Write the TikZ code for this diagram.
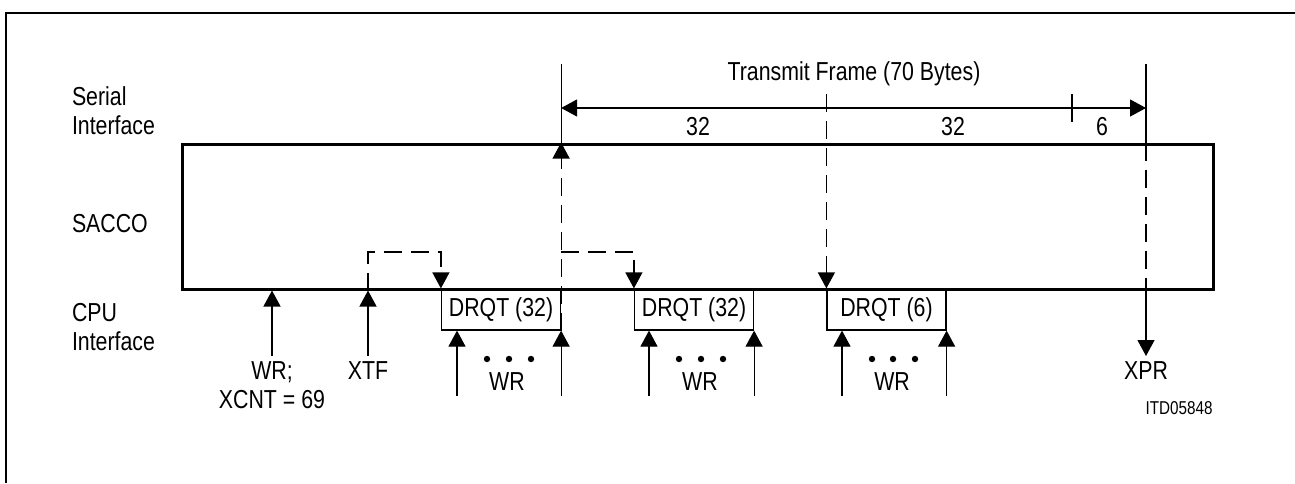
\documentclass[tikz,border=0pt]{standalone}
\usepackage{fontspec}
\setmainfont{Liberation Sans}[FakeStretch=0.82]
\usetikzlibrary{positioning, arrows.meta}

\newcommand{\labfont}{\fontsize{13}{14.5}\selectfont}
\newcommand{\codefont}{\fontsize{9.3}{11}\selectfont}

\tikzset{
  lbl/.style={inner sep=0pt, outer sep=0pt, font=\labfont},
  tag/.style={lbl, outer sep=3pt},
  thinl/.style={line width=0.6pt},
  tip/.style={-{Triangle[length=8pt,width=8.5pt]}},
  sig/.style={thinl, tip},
  dsh/.style={thinl, dash pattern=on 9pt off 4.5pt},
  drqt/.style={draw, thinl, font=\labfont, minimum width=59.5pt, minimum height=20.5pt, inner sep=0pt},
}

\begin{document}
\begin{tikzpicture}[x=0.5pt, y=-0.5pt]
  \useasboundingbox (0,0) rectangle (1295,483);
  \draw[line width=1pt] (6,483) -- (6,13) -- (1295,13);

  % row labels
  \node[lbl, anchor=north west, align=left] (serial) at (72,87) {Serial\\Interface};
  \node[lbl, anchor=north west] (saccolbl) at (72,214) {SACCO};
  \node[lbl, anchor=north west, align=left] (cpu) at (72,303) {CPU\\Interface};

  % SACCO block and DMA requests
  \node[draw, line width=1.5pt, minimum width=515.5pt, minimum height=72.5pt, inner sep=0pt] (sacco) at (697.5,216.5) {};
  \node[drqt] (d1) at (501,309.5) {DRQT (32)};
  \node[drqt] (d2) at (694,309.5) {DRQT (32)};
  \node[drqt] (d3) at (886.5,309.5) {DRQT (6)};

  \coordinate (top) at (0,64);
  \coordinate (rail) at (0,94);
  \coordinate (dim) at (0,108);
  \coordinate (lvl) at (0,252);
  \coordinate (foot) at (0,396);

  % first write and XTF
  \node[tag, anchor=north, align=center] (wr0) at (272,356) {WR;\\XCNT = 69};
  \node[tag, anchor=north] (xtf) at (368,356) {XTF};
  \draw[sig] (wr0.north) -- (wr0.north |- sacco.south);
  \draw[sig] (xtf.north) -- (xtf.north |- sacco.south);
  \draw[dsh, tip] (xtf.north |- sacco.south) -- (xtf.north |- lvl) -| (d1.north west);

  % frame start and following requests
  \draw[thinl] (d1.south east |- sacco.north) -- (d1.south east |- top);
  \draw[dsh, tip] (d1.south east) -- (d1.south east |- sacco.north);
  \draw[dsh, tip] (d1.south east |- lvl) -| (d2.north west);
  \draw[dsh, tip] (d3.north west |- rail) -- (d3.north west);

  % XPR
  \node[tag, anchor=north] (xpr) at (1146,356) {XPR};
  \draw[thinl] (xpr.north |- sacco.north) -- (xpr.north |- top);
  \draw[dsh] (xpr.north |- sacco.north) -- (xpr.north |- sacco.south);
  \draw[sig] (xpr.north |- sacco.south) -- (xpr.north);

  % byte counts
  \draw[thinl, {Triangle[length=8pt,width=8.5pt]}-{Triangle[length=8pt,width=8.5pt]}] (d1.south east |- dim) -- (xpr.north |- dim);
  \draw[thinl] (1072,94) -- (1072,122);
  \node[lbl, anchor=north] (frame) at (854,62) {Transmit Frame (70 Bytes)};
  \node[lbl, anchor=north] (n1) at (698,117) {32};
  \node[lbl, anchor=north] (n2) at (953,117) {32};
  \node[lbl, anchor=north] (n3) at (1102,117) {6};

  % write bursts
  \coordinate (w1) at (457,396);
  \coordinate (w2) at (649,396);
  \coordinate (w3) at (842,396);
  \draw[sig] (w1) -- (w1 |- d1.south);
  \draw[sig] (d1.south east |- foot) -- (d1.south east);
  \draw[sig] (w2) -- (w2 |- d2.south);
  \draw[sig] (d2.south east |- foot) -- (d2.south east);
  \draw[sig] (w3) -- (w3 |- d3.south);
  \draw[sig] (d3.south east |- foot) -- (d3.south east);
  \fill (487,359) circle (1.6pt) (509,359) circle (1.6pt) (531,359) circle (1.6pt);
  \fill (679,359) circle (1.6pt) (701,359) circle (1.6pt) (723,359) circle (1.6pt);
  \fill (872,359) circle (1.6pt) (893,359) circle (1.6pt) (915,359) circle (1.6pt);
  \node[lbl, anchor=north] (wr1) at (507,373) {WR};
  \node[lbl, anchor=north] (wr2) at (700,373) {WR};
  \node[lbl, anchor=north] (wr3) at (892,373) {WR};

  \node[lbl, font=\codefont, anchor=north] (itd) at (1179,402) {ITD05848};
\end{tikzpicture}
\end{document}
